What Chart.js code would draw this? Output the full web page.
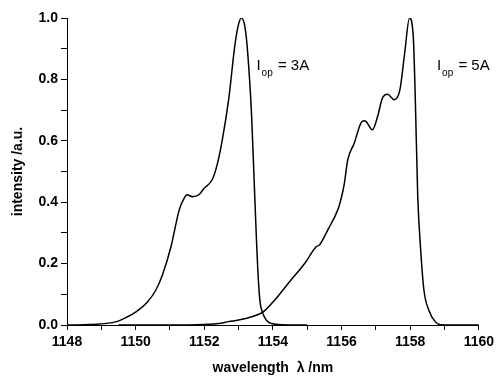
<!DOCTYPE html>
<html>
<head>
<meta charset="utf-8">
<script src="https://cdn.jsdelivr.net/npm/chart.js@4"></script>
<style>
  html, body { margin: 0; padding: 0; background: #fff; }
  #wrap { width: 498px; height: 377px; }
</style>
</head>
<body>
<div id="wrap"><canvas id="spectrum"></canvas></div>
<script>
// spectrum at I_op = 3A
const wl3A = [1148.0, 1148.5, 1148.95, 1149.44, 1149.73, 1150.01, 1150.35, 1150.59, 1150.78, 1151.03,
  1151.27, 1151.40, 1151.50, 1151.65, 1151.85, 1151.99, 1152.23, 1152.37, 1152.52, 1152.71,
  1152.90, 1153.00, 1153.08, 1153.17, 1153.24, 1153.32, 1153.38, 1153.45, 1153.52, 1153.58,
  1153.63, 1153.70, 1153.77, 1153.86, 1153.96, 1154.25, 1155.0];
const int3A = [0.0, 0.001, 0.003, 0.011, 0.025, 0.043, 0.076, 0.114, 0.163, 0.255,
  0.375, 0.41, 0.424, 0.418, 0.425, 0.445, 0.473, 0.52, 0.60, 0.734,
  0.918, 0.98, 1.0, 0.98, 0.92, 0.80, 0.68, 0.48, 0.28, 0.14,
  0.071, 0.04, 0.022, 0.01, 0.005, 0.001, 0.0];

// spectrum at I_op = 5A
const wl5A = [1149.5, 1151.0, 1152.0, 1152.42, 1152.71, 1153.0, 1153.38, 1153.72, 1154.06, 1154.45,
  1154.93, 1155.26, 1155.36, 1155.60, 1155.89, 1155.98, 1156.08, 1156.18, 1156.37, 1156.56,
  1156.65, 1156.71, 1156.90, 1157.05, 1157.19, 1157.34, 1157.53, 1157.70, 1157.84, 1157.98,
  1158.09, 1158.15, 1158.22, 1158.30, 1158.40, 1158.54, 1158.73, 1158.88, 1160.0];
const int5A = [0.0, 0.0, 0.002, 0.005, 0.011, 0.016, 0.027, 0.043, 0.082, 0.136,
  0.201, 0.255, 0.261, 0.31, 0.375, 0.408, 0.46, 0.538, 0.592, 0.657,
  0.665, 0.663, 0.636, 0.679, 0.739, 0.752, 0.734, 0.766, 0.886, 1.0,
  0.94, 0.734, 0.42, 0.255, 0.114, 0.049, 0.011, 0.001, 0.0];

const curveLabels = [
  { x: 1153.52, y: 0.83, value: '3A' },
  { x: 1158.78, y: 0.83, value: '5A' }
];

const FONT = "'Liberation Sans', Arial, sans-serif";

const toPoints = (xs, ys) => xs.map((x, i) => ({ x: x, y: ys[i] }));

// draws "I_op = 3A" style labels anchored in data coordinates
const labelPlugin = {
  id: 'iopLabels',
  afterDraw(chart) {
    const ctx = chart.ctx;
    const xs = chart.scales.x, ys = chart.scales.y;
    ctx.save();
    ctx.fillStyle = '#000';
    ctx.textBaseline = 'alphabetic';
    ctx.textAlign = 'left';
    curveLabels.forEach(lbl => {
      let px = xs.getPixelForValue(lbl.x);
      const py = ys.getPixelForValue(lbl.y);
      ctx.font = '15px ' + FONT;
      ctx.fillText('I', px, py);
      px += ctx.measureText('I').width + 1;
      ctx.font = '10px ' + FONT;
      ctx.fillText('op', px, py + 6);
      px += ctx.measureText('op').width + 1;
      ctx.font = '15px ' + FONT;
      ctx.fillText(' = ' + lbl.value, px, py);
    });
    ctx.restore();
  }
};

const lineStyle = {
  borderColor: '#000',
  borderWidth: 1.5,
  pointRadius: 0,
  fill: false,
  cubicInterpolationMode: 'monotone'
};

new Chart(document.getElementById('spectrum'), {
  type: 'line',
  data: {
    datasets: [
      Object.assign({ label: 'I_op = 3A', data: toPoints(wl3A, int3A) }, lineStyle),
      Object.assign({ label: 'I_op = 5A', data: toPoints(wl5A, int5A) }, lineStyle)
    ]
  },
  options: {
    responsive: true,
    maintainAspectRatio: false,
    animation: false,
    layout: { padding: { top: 18, right: 16, left: 0, bottom: 0 } },
    plugins: { legend: { display: false }, tooltip: { enabled: false } },
    scales: {
      x: {
        type: 'linear',
        min: 1148,
        max: 1160,
        afterFit: s => { s.height = 52; },
        border: { display: true, color: '#000', width: 1 },
        grid: { drawOnChartArea: false, drawTicks: true, tickLength: 5, color: '#000', lineWidth: 1 },
        ticks: {
          stepSize: 1,
          autoSkip: false,
          maxRotation: 0,
          padding: 4,
          color: '#000',
          font: { family: FONT, size: 14, weight: 'bold' },
          callback: v => (Math.round(v) % 2 === 0 ? String(v) : '')
        },
        title: {
          display: true,
          text: 'wavelength  λ /nm',
          color: '#000',
          font: { family: FONT, size: 14, weight: 'bold' },
          padding: { top: 0, bottom: 0 }
        }
      },
      y: {
        min: 0,
        max: 1,
        afterFit: s => { s.width = 67; },
        border: { display: true, color: '#000', width: 1 },
        grid: { drawOnChartArea: false, drawTicks: true, tickLength: 6, color: '#000', lineWidth: 1 },
        ticks: {
          stepSize: 0.1,
          autoSkip: false,
          padding: 3,
          color: '#000',
          font: { family: FONT, size: 14, weight: 'bold' },
          callback: v => (Math.round(v * 10) % 2 === 0 ? v.toFixed(1) : '')
        },
        title: {
          display: true,
          text: 'intensity /a.u.',
          color: '#000',
          font: { family: FONT, size: 14, weight: 'bold' },
          padding: { top: 10, bottom: 0 }
        }
      }
    }
  },
  plugins: [labelPlugin]
});
</script>
</body>
</html>
